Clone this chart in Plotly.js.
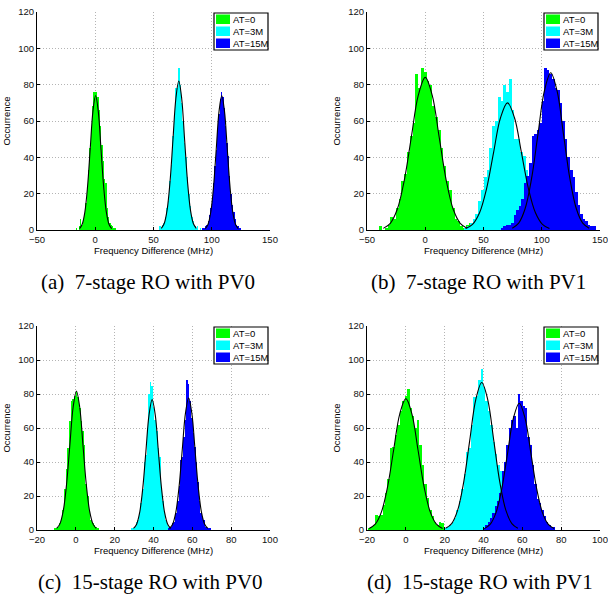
<!DOCTYPE html>
<html><head><meta charset="utf-8">
<script src="https://cdn.plot.ly/plotly-3.0.1.min.js"></script>
<style>html,body{margin:0;padding:0;background:#fff;}#chart{width:608px;height:596px;}</style>
</head><body><div id="chart"></div>
<script>
// ---------- DATA ----------
const seriesNames = ['AT=0', 'AT=3M', 'AT=15M'];
const captions = ['(a)\u00a0 7-stage RO with PV0', '(b)\u00a0 7-stage RO with PV1', '(c)\u00a0 15-stage RO with PV0', '(d)\u00a0 15-stage RO with PV1'];
const xTicks7 = [-50, 0, 50, 100, 150];
const xTicks15 = [-20, 0, 20, 40, 60, 80, 100];
const yTicks = [0, 20, 40, 60, 80, 100, 120];

// (a) 7-stage, PV0 : first bin centre and bin width per series
const aBinStart = [-16.1, 55.45, 92.5];
const aBinWidth = [1.15, 1.25, 1.15];
const aCountsAT0 = [1,0,2,6,3,6,9,15,23,33,45,56,68,76,76,76,73,66,57,47,38,28,26,12,7,4,3,2,1,1];
const aCountsAT3M = [2,1,3,4,7,12,16,27,36,52,63,78,78,89,80,70,60,48,40,29,20,13,7,5,2,1,2,0,1];
const aCountsAT15M = [1,1,2,3,5,8,12,17,26,35,44,55,64,72,76,73,67,57,48,41,30,20,14,10,6,3,2,1,1];
const aFitX0 = [-13.5,-11.2,-8.9,-6.6,-4.3,-2.0,0.3,2.6,4.9,7.2,9.5,11.8,14.1];
const aFitY0 = [0.8,3.2,10.0,24.0,44.9,65.3,74,65.3,44.9,24.0,10.0,3.2,0.8];
const aFitX3M = [56.7,59.2,61.7,64.2,66.7,69.2,71.7,74.2,76.7,79.2,81.7,84.2,86.7];
const aFitY3M = [0.9,3.6,11.1,26.6,49.7,72.4,82,72.4,49.7,26.6,11.1,3.6,0.9];
const aFitX15M = [94.5,96.85,99.2,101.55,103.9,106.25,108.6,110.95,113.3,115.65,118.0,120.35,122.7];
const aFitY15M = [0.8,3.2,10.0,24.0,44.9,65.3,74,65.3,44.9,24.0,10.0,3.2,0.8];

// (b) 7-stage, PV1
const bBinStart = [-38.4, 34.6, 65.9];
const bBinWidth = [2.4, 2.4, 2.2];
const bCountsAT0 = [2,0,1,3,7,6,12,17,27,31,43,52,59,86,78,89,87,82,80,68,62,55,45,35,27,22,12,6,5,2,1,3,4];
const bCountsAT3M = [1,2,4,6,9,16,22,29,33,45,57,60,73,71,80,76,83,66,50,50,43,41,33,26,18,12,8,5,3,2,1];
const bCountsAT15M = [1,2,3,3,4,8,11,13,17,26,30,37,52,53,55,59,71,89,88,86,83,78,77,70,60,50,40,33,29,21,14,9,6,5,3,2,2];
const bFitX0 = [-36,-30,-24,-18,-12,-6,0,6,12,18,24,30,36];
const bFitY0 = [0.9,3.7,11.4,27.3,50.9,74.1,84,74.1,50.9,27.3,11.4,3.7,0.9];
const bFitX3M = [34.6,40.6,46.6,52.6,58.6,64.6,70.6,76.6,82.6,88.6,94.6,100.6,106.6];
const bFitY3M = [0.8,3.1,9.5,22.7,42.5,61.8,70,61.8,42.5,22.7,9.5,3.1,0.8];
const bFitX15M = [74.7,80.2,85.7,91.2,96.7,102.2,107.7,113.2,118.7,124.2,129.7,135.2,140.7];
const bFitY15M = [1.0,3.8,11.7,28.1,52.5,76.4,86.6,76.4,52.5,28.1,11.7,3.8,1.0];

// (c) 15-stage, PV0
const cBinStart = [-10.75, 28.9, 47.7];
const cBinWidth = [0.85, 0.8, 0.8];
const cCountsAT0 = [1,1,2,4,7,12,24,36,48,64,76,77,79,82,78,72,64,58,50,27,20,11,6,4,3,2,1];
const cCountsAT3M = [1,1,2,5,6,10,16,24,40,44,60,80,87,85,72,65,58,48,43,25,17,11,6,3,2,1,1];
const cCountsAT15M = [1,1,2,4,5,10,17,26,41,43,55,65,88,86,76,66,57,49,40,28,17,10,7,6,2,1,1,1];
const cFitX0 = [-9.9,-8.2,-6.5,-4.8,-3.1,-1.4,0.3,2.0,3.7,5.4,7.1,8.8,10.5];
const cFitY0 = [0.9,3.6,11.1,26.6,49.6,72.2,81.8,72.2,49.6,26.6,11.1,3.6,0.9];
const cFitX3M = [29.7,31.3,32.9,34.5,36.1,37.7,39.3,40.9,42.5,44.1,45.7,47.3,48.9];
const cFitY3M = [0.9,3.4,10.4,24.9,46.5,67.7,76.7,67.7,46.5,24.9,10.4,3.4,0.9];
const cFitX15M = [48.2,49.85,51.5,53.15,54.8,56.45,58.1,59.75,61.4,63.05,64.7,66.35,68.0];
const cFitY15M = [0.9,3.4,10.5,25.2,47.1,68.6,77.7,68.6,47.1,25.2,10.5,3.4,0.9];

// (d) 15-stage, PV1
const dBinStart = [-18.9, 20.5, 40.4];
const dBinWidth = [1.26, 1.24, 1.2];
const dCountsAT0 = [1,2,3,9,8,9,15,22,30,48,49,56,62,70,76,79,83,72,67,60,65,50,38,27,19,12,8,5,3,5,4];
const dCountsAT3M = [1,2,3,5,7,12,17,24,33,46,48,62,78,79,88,95,84,76,70,62,52,45,38,35,20,12,8,5,3,2,1];
const dCountsAT15M = [1,3,5,7,10,14,17,22,35,40,50,60,65,67,60,80,76,73,72,55,50,38,27,18,16,12,8,5,3,2,2];
const dFitX0 = [-18.9,-15.75,-12.6,-9.45,-6.3,-3.15,0,3.15,6.3,9.45,12.6,15.75,18.9];
const dFitY0 = [0.9,3.4,10.5,25.1,46.9,68.2,77.3,68.2,46.9,25.1,10.5,3.4,0.9];
const dFitX3M = [20.5,23.6,26.7,29.8,32.9,36.0,39.1,42.2,45.3,48.4,51.5,54.6,57.7];
const dFitY3M = [1.0,3.8,11.7,28.2,52.6,76.6,86.8,76.6,52.6,28.2,11.7,3.8,1.0];
const dFitX15M = [40.4,43.4,46.4,49.4,52.4,55.4,58.4,61.4,64.4,67.4,70.4,73.4,76.4];
const dFitY15M = [0.8,3.3,10.1,24.2,45.2,65.8,74.6,65.8,45.2,24.2,10.1,3.3,0.8];

// ---------- LAYOUT / STYLE ----------
const W = 608, H = 596;
const colors = ['#00ff00', '#00ffff', '#0000ff'];
const panels = [
  {L: 37,  R: 270, T: 12,  B: 230, range: [-50, 150], ticks: xTicks7,
   start: aBinStart, width: aBinWidth, counts: [aCountsAT0, aCountsAT3M, aCountsAT15M],
   fx: [aFitX0, aFitX3M, aFitX15M], fy: [aFitY0, aFitY3M, aFitY15M]},
  {L: 367, R: 600, T: 12,  B: 230, range: [-50, 150], ticks: xTicks7,
   start: bBinStart, width: bBinWidth, counts: [bCountsAT0, bCountsAT3M, bCountsAT15M],
   fx: [bFitX0, bFitX3M, bFitX15M], fy: [bFitY0, bFitY3M, bFitY15M]},
  {L: 37,  R: 270, T: 326, B: 530, range: [-20, 100], ticks: xTicks15,
   start: cBinStart, width: cBinWidth, counts: [cCountsAT0, cCountsAT3M, cCountsAT15M],
   fx: [cFitX0, cFitX3M, cFitX15M], fy: [cFitY0, cFitY3M, cFitY15M]},
  {L: 367, R: 600, T: 326, B: 530, range: [-20, 100], ticks: xTicks15,
   start: dBinStart, width: dBinWidth, counts: [dCountsAT0, dCountsAT3M, dCountsAT15M],
   fx: [dFitX0, dFitX3M, dFitX15M], fy: [dFitY0, dFitY3M, dFitY15M]}
];
const capCenters = [[148, 282], [478, 282], [150, 582], [480, 582]];

const px = x => x / W;
const py = y => 1 - y / H;
const axFont = {family: 'Liberation Sans, Arial, sans-serif', size: 9.5, color: '#000'};
const tickFont = {family: 'Liberation Sans, Arial, sans-serif', size: 9.5, color: '#111'};

const traces = [];
const layout = {
  width: W, height: H, margin: {l: 0, r: 0, t: 0, b: 0},
  paper_bgcolor: '#fff', plot_bgcolor: '#fff',
  showlegend: false, barmode: 'overlay', bargap: 0,
  font: axFont, shapes: [], annotations: []
};

panels.forEach((p, i) => {
  const n = i === 0 ? '' : String(i + 1);
  const xa = 'x' + n, ya = 'y' + n;
  // histogram bars
  for (let s = 0; s < 3; s++) {
    const xs = p.counts[s].map((_, k) => p.start[s] + k * p.width[s]);
    traces.push({type: 'bar', x: xs, y: p.counts[s], width: p.width[s],
      marker: {color: colors[s], line: {width: 0}}, xaxis: xa, yaxis: ya,
      name: seriesNames[s], hoverinfo: 'skip'});
  }
  // fitted curves
  for (let s = 0; s < 3; s++) {
    traces.push({type: 'scatter', mode: 'lines', x: p.fx[s], y: p.fy[s],
      line: {color: '#000', width: 1.1, shape: 'spline', smoothing: 1},
      xaxis: xa, yaxis: ya, hoverinfo: 'skip'});
  }
  const common = {ticks: 'inside', ticklen: 3, tickwidth: 1, tickcolor: '#000',
    showline: true, linecolor: '#000', linewidth: 1,
    showgrid: true, gridcolor: '#b4b4b4', griddash: '1px,2px', gridwidth: 1,
    zeroline: false, fixedrange: true, tickfont: tickFont};
  layout['xaxis' + n] = Object.assign({}, common, {
    domain: [px(p.L), px(p.R)], range: p.range, tickvals: p.ticks, anchor: ya,
    ticklabelstandoff: 1,
    title: {text: 'Frequency Difference (MHz)', font: axFont, standoff: 1}});
  layout['yaxis' + n] = Object.assign({}, common, {
    domain: [py(p.B), py(p.T)], range: [0, 120], tickvals: yTicks, anchor: xa,
    title: {text: 'Occurrence', font: axFont, standoff: 5}});

  // legend box (top-right, inside axes)
  layout.shapes.push({type: 'rect', xref: 'paper', yref: 'paper',
    x0: px(p.R - 56), x1: px(p.R - 2), y0: py(p.T + 38), y1: py(p.T + 1),
    line: {color: '#000', width: 1.2}, fillcolor: '#fff'});
  for (let s = 0; s < 3; s++) {
    layout.shapes.push({type: 'rect', xref: 'paper', yref: 'paper',
      x0: px(p.R - 54), x1: px(p.R - 40), y0: py(p.T + 12 + 12 * s), y1: py(p.T + 2.5 + 12 * s),
      line: {width: 0}, fillcolor: colors[s]});
    layout.annotations.push({xref: 'paper', yref: 'paper', x: px(p.R - 39.5), y: py(p.T + 7.5 + 12 * s),
      xanchor: 'left', yanchor: 'middle', showarrow: false, text: seriesNames[s],
      font: axFont});
  }
  layout.annotations.push({xref: 'paper', yref: 'paper', x: px(capCenters[i][0]), y: py(capCenters[i][1]),
    xanchor: 'center', yanchor: 'middle', showarrow: false, text: captions[i],
    font: {family: 'Liberation Serif, Times New Roman, serif', size: 21, color: '#000'}});
});

Plotly.newPlot('chart', traces, layout, {staticPlot: true, displayModeBar: false});
</script>
</body></html>
